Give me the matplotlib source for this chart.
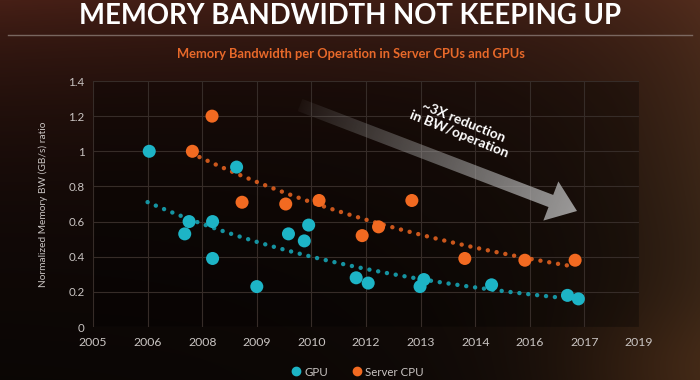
import numpy as np
import matplotlib
matplotlib.use("Agg")
import matplotlib.pyplot as plt
from matplotlib.patches import Polygon
from matplotlib.lines import Line2D

# ---------------- data ----------------
x_tick_labels = ["2005", "2006", "2008", "2009", "2010", "2012", "2013",
                 "2014", "2016", "2017", "2019"]
y_ticks = [0, 0.2, 0.4, 0.6, 0.8, 1.0, 1.2, 1.4]
y_tick_labels = ["0", "0.2", "0.4", "0.6", "0.8", "1", "1.2", "1.4"]

# x positions are in tick-slot units (0 = "2005", 10 = "2019")
gpu_x = [1.03, 1.76, 1.68, 2.19, 2.19, 2.63, 3.00, 3.58, 3.87, 3.95,
         4.82, 5.04, 5.99, 6.06, 7.30, 8.69, 8.89]
gpu_y = [1.00, 0.60, 0.53, 0.60, 0.39, 0.91, 0.23, 0.53, 0.49, 0.58,
         0.28, 0.25, 0.23, 0.27, 0.24, 0.18, 0.16]

cpu_x = [1.82, 2.18, 2.73, 3.53, 4.14, 4.93, 5.23, 5.84, 6.81, 7.91, 8.83]
cpu_y = [1.00, 1.20, 0.71, 0.70, 0.72, 0.52, 0.57, 0.72, 0.39, 0.38, 0.38]

gpu_trend_range = [1.0, 8.5]
cpu_trend_range = [1.95, 8.7]

GPU_COLOR = "#1db4c6"
CPU_COLOR = "#f26a21"

W, H, DPI = 700, 380, 100
fig = plt.figure(figsize=(W / DPI, H / DPI), dpi=DPI)

# ---------------- background ----------------
bg = fig.add_axes([0, 0, 1, 1], zorder=-10)
yy, xx = np.mgrid[0:H, 0:W].astype(float)
img = np.zeros((H, W, 3))
img[:] = np.array([8, 5, 4]) / 255.0
top = np.exp(-yy / 120.0)[..., None] * (np.array([62, 26, 18]) / 255.0)
top *= (1.0 - 0.3 * (xx / W))[..., None]
right = (np.exp(-(W - xx) / 150.0) * (0.75 + 0.25 * np.sin(np.pi * yy / H)))[..., None] \
    * (np.array([40, 28, 16]) / 255.0)
br = np.exp(-(((W - xx) / 140.0) ** 2 + ((H - yy) / 80.0) ** 2))[..., None] * (np.array([26, 14, 6]) / 255.0)
img = np.clip(img + top + right + br, 0, 1)
bg.imshow(img, extent=[0, W, H, 0], aspect="auto")
bg.set_xlim(0, W)
bg.set_ylim(H, 0)
bg.axis("off")

# title / line / subtitle
fig.text(350 / W, 1 - 16 / H, "MEMORY BANDWIDTH NOT KEEPING UP", color="white",
         fontsize=19.8, fontweight="bold", family="Lato", ha="center", va="center")
bg.plot([8, 692], [35, 35], color="#8a7a74", lw=1.0, alpha=0.8)
fig.text(351 / W, 1 - 54 / H, "Memory Bandwidth per Operation in Server CPUs and GPUs",
         color="#e8692a", fontsize=9.3, fontweight="bold", family="Lato",
         ha="center", va="center")

# ---------------- main axes ----------------
ax = fig.add_axes([93 / W, 1 - 327 / H, (639 - 93) / W, (327 - 81) / H])
ax.set_facecolor((0, 0, 0, 0.3))
ax.set_xlim(0, len(x_tick_labels) - 1)
ax.set_ylim(0, 1.4)
ax.set_xticks(range(len(x_tick_labels)))
ax.set_xticklabels(x_tick_labels)
ax.set_yticks(y_ticks)
ax.set_yticklabels(y_tick_labels)
for s in ax.spines.values():
    s.set_visible(False)
ax.grid(True, color="#362c28", lw=0.8)
ax.set_axisbelow(True)
ax.tick_params(length=0, colors="#c9c4c2", labelsize=8.3, pad=6)
for lab in ax.get_xticklabels() + ax.get_yticklabels():
    lab.set_family("Lato")
ax.tick_params(axis="x", pad=7, labelsize=8.8)
ax.set_ylabel("Normalized Memory BW (GB/s) ratio", color="#c9c4c2", fontsize=7.3,
              family="Lato", labelpad=15)

# trendlines (exponential fits to the data)
def exp_fit(x, y, rng, color):
    x = np.asarray(x); y = np.asarray(y)
    b, a = np.polyfit(x, np.log(y), 1)
    xs = np.linspace(rng[0], rng[1], 200)
    ax.plot(xs, np.exp(a + b * xs), color=color, lw=3.2,
            linestyle=(0, (0.01, 2.0)), dash_capstyle="round", zorder=2, alpha=0.9)

exp_fit(gpu_x, gpu_y, gpu_trend_range, "#17a3b3")
exp_fit(cpu_x, cpu_y, cpu_trend_range, "#e0601f")

ax.scatter(gpu_x, gpu_y, s=88, color=GPU_COLOR, edgecolors="none", zorder=3)
ax.scatter(cpu_x, cpu_y, s=88, color=CPU_COLOR, edgecolors="none", zorder=3)

# legend
handles = [Line2D([], [], marker="o", ls="none", color=GPU_COLOR, markersize=6),
           Line2D([], [], marker="o", ls="none", color=CPU_COLOR, markersize=6)]
fig.legend(handles, ["GPU", "Server CPU"], loc="center", bbox_to_anchor=(357 / W, 1 - 372 / H),
           ncol=2, frameon=False, handletextpad=0.2, columnspacing=2.0,
           prop={"family": "Lato", "size": 8.3}, labelcolor="#c9c4c2", handlelength=1.0)

# ---------------- arrow overlay ----------------
ov = fig.add_axes([0, 0, 1, 1], zorder=5)
ov.set_xlim(0, W)
ov.set_ylim(H, 0)
ov.axis("off")
ov.patch.set_alpha(0)

tail = np.array([300.0, 105.0])
tip = np.array([577.0, 211.0])
d = tip - tail
L = np.hypot(*d)
u = d / L
n = np.array([-u[1], u[0]])
bw, hw, hl = 6.5, 21.0, 28.0
base = tip - u * hl
pts = [tail + n * bw, base + n * bw, base + n * hw, tip,
       base - n * hw, base - n * bw, tail - n * bw]
poly = Polygon(pts, closed=True, facecolor="none", edgecolor="none")
ov.add_patch(poly)
grad = np.zeros((H, W, 4))
proj = ((xx - tail[0]) * u[0] + (yy - tail[1]) * u[1]) / L
proj = np.clip(proj, 0, 1)
grad[..., 0] = (150 + 30 * proj) / 255.0
grad[..., 1] = (150 + 30 * proj) / 255.0
grad[..., 2] = (150 + 30 * proj) / 255.0
grad[..., 3] = 0.05 + 0.8 * proj ** 0.8
im = ov.imshow(grad, extent=[0, W, H, 0], aspect="auto", zorder=6)
im.set_clip_path(poly)

ov.text(461, 128, "~3X reduction\nin BW/operation", color="white", fontsize=10,
        fontweight="bold", family="Lato", ha="center", va="center", rotation=-22,
        rotation_mode="anchor", multialignment="center", linespacing=1.05, zorder=7)

fig.savefig("out.png", dpi=DPI)
